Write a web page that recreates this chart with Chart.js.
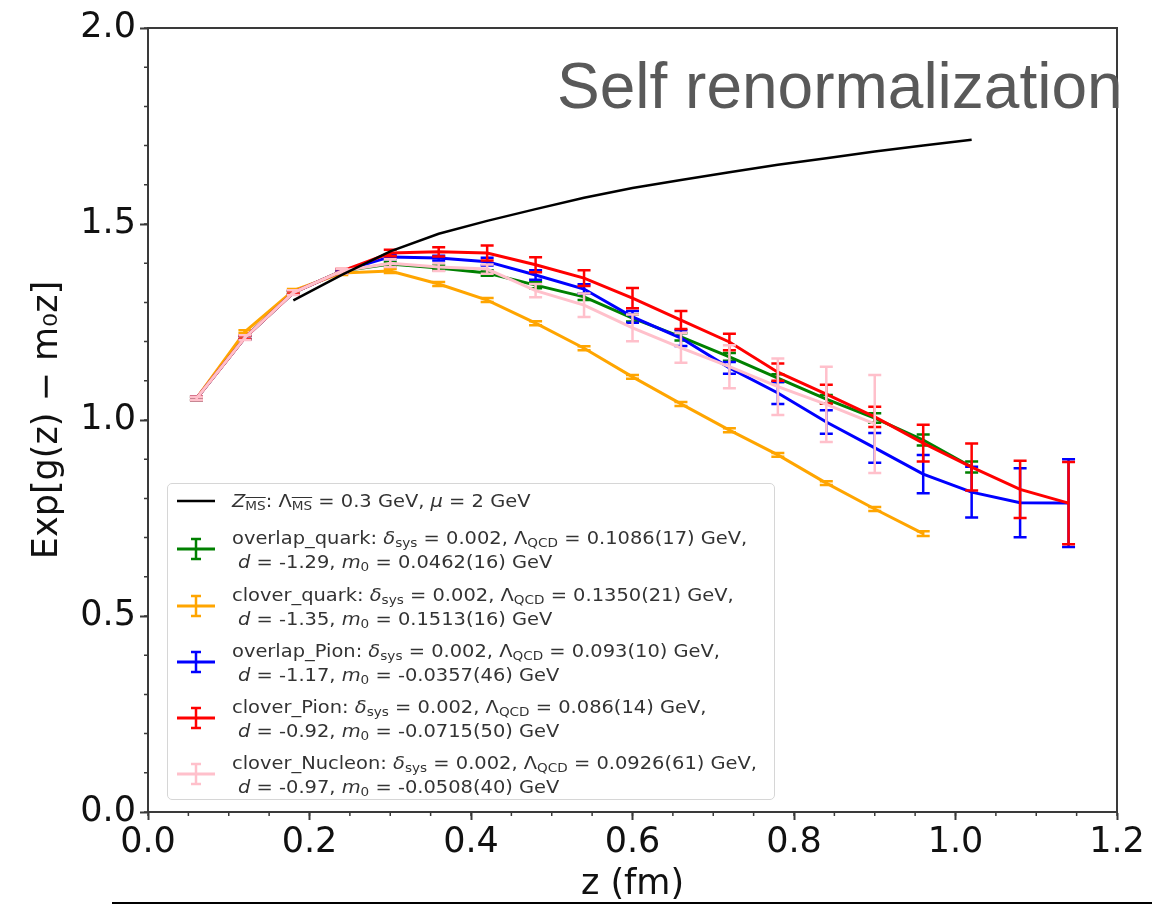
<!DOCTYPE html>
<html>
<head>
<meta charset="utf-8">
<script src="https://cdn.jsdelivr.net/npm/chart.js@4.4.1/dist/chart.umd.min.js"></script>
<style>
  body { margin: 0; background: #fff; }
  #wrap { position: relative; width: 1152px; height: 908px; overflow: hidden; }
  #chart { position: absolute; left: 0; top: 0; }
  #title { position: absolute; left: 557px; top: 54px; font: 64px/64px "Liberation Sans", Arial, sans-serif; color: #595959; white-space: nowrap; }
  #legend { position: absolute; left: 167px; top: 483px; width: 608px; height: 317px; box-sizing: border-box;
            border: 1.5px solid #d6d6d6; border-radius: 5px; background: rgba(255,255,255,0.85);
            font-family: "DejaVu Sans", sans-serif; font-size: 18px; color: #333; }
  #legend .txt { position: absolute; left: 64px; line-height: 24px; white-space: nowrap; transform: scaleX(1.08); transform-origin: left center; }
  #legend svg { position: absolute; left: 9px; }
  #legend sub { font-size: 70%; vertical-align: -0.25em; line-height: 0; }
  .ov { text-decoration: overline; }
  #rule { position: absolute; left: 112px; top: 902px; width: 1040px; height: 2px; background: #000; }
</style>
</head>
<body>
<div id="wrap">
  <canvas id="chart" width="1152" height="908"></canvas>
  <div id="title">Self renormalization</div>
  <div id="legend"></div>
  <div id="rule"></div>
</div>
<script>
// z values (fm) of the lattice points
const zPoints = [0.06, 0.12, 0.18, 0.24, 0.30, 0.36, 0.42, 0.48, 0.54, 0.60, 0.66, 0.72, 0.78, 0.84, 0.90, 0.96, 1.02, 1.08, 1.14];

// perturbative Z_MSbar curve
const zCurve = [0.18, 0.24, 0.30, 0.36, 0.42, 0.48, 0.54, 0.60, 0.66, 0.72, 0.78, 0.84, 0.90, 0.96, 1.02];
const msbarCurve = [1.305, 1.37, 1.43, 1.475, 1.508, 1.538, 1.567, 1.592, 1.612, 1.632, 1.651, 1.668, 1.685, 1.70, 1.715];

const overlapQuark    = [1.055, 1.21, 1.325, 1.38, 1.398, 1.388, 1.375, 1.344, 1.314, 1.26, 1.212, 1.161, 1.107, 1.053, 1.005, 0.949, 0.88];
const overlapQuarkErr = [0.004, 0.004, 0.004, 0.004, 0.005, 0.006, 0.007, 0.008, 0.008, 0.009, 0.009, 0.01, 0.01, 0.011, 0.012, 0.014, 0.014];

const cloverQuark    = [1.055, 1.225, 1.33, 1.375, 1.38, 1.347, 1.306, 1.247, 1.183, 1.11, 1.041, 0.974, 0.911, 0.839, 0.773, 0.71];
const cloverQuarkErr = [0.004, 0.004, 0.004, 0.005, 0.005, 0.005, 0.005, 0.005, 0.005, 0.005, 0.005, 0.005, 0.005, 0.005, 0.005, 0.006];

const overlapPion    = [1.055, 1.21, 1.325, 1.38, 1.416, 1.413, 1.404, 1.37, 1.334, 1.263, 1.209, 1.133, 1.069, 0.995, 0.929, 0.862, 0.816, 0.789, 0.788];
const overlapPionErr = [0.004, 0.004, 0.004, 0.004, 0.005, 0.006, 0.01, 0.012, 0.012, 0.015, 0.02, 0.015, 0.028, 0.03, 0.038, 0.049, 0.065, 0.088, 0.112];

const cloverPion    = [1.055, 1.21, 1.325, 1.38, 1.426, 1.429, 1.426, 1.396, 1.362, 1.311, 1.255, 1.199, 1.122, 1.066, 1.008, 0.941, 0.88, 0.823, 0.788];
const cloverPionErr = [0.004, 0.004, 0.004, 0.005, 0.008, 0.012, 0.019, 0.019, 0.02, 0.026, 0.023, 0.021, 0.022, 0.024, 0.026, 0.047, 0.06, 0.073, 0.105];

const cloverNucleon    = [1.055, 1.21, 1.325, 1.38, 1.40, 1.39, 1.385, 1.33, 1.293, 1.235, 1.184, 1.136, 1.085, 1.04, 0.99];
const cloverNucleonErr = [0.004, 0.006, 0.006, 0.006, 0.01, 0.01, 0.012, 0.017, 0.03, 0.034, 0.038, 0.055, 0.072, 0.096, 0.125];

const xTicks = [0, 0.2, 0.4, 0.6, 0.8, 1.0, 1.2];
const yTicks = [0, 0.5, 1.0, 1.5, 2.0];
const X_MINOR = 0.05;
const Y_MINOR = 0.1;

const legendLabels = [
  ['<i>Z</i><sub class="ov">MS</sub>: Λ<sub class="ov">MS</sub> = 0.3 GeV, <i>μ</i> = 2 GeV'],
  ['overlap_quark: <i>δ</i><sub>sys</sub> = 0.002, Λ<sub>QCD</sub> = 0.1086(17) GeV,', '<i>d</i> = -1.29, <i>m</i><sub>0</sub> = 0.0462(16) GeV'],
  ['clover_quark: <i>δ</i><sub>sys</sub> = 0.002, Λ<sub>QCD</sub> = 0.1350(21) GeV,', '<i>d</i> = -1.35, <i>m</i><sub>0</sub> = 0.1513(16) GeV'],
  ['overlap_Pion: <i>δ</i><sub>sys</sub> = 0.002, Λ<sub>QCD</sub> = 0.093(10) GeV,', '<i>d</i> = -1.17, <i>m</i><sub>0</sub> = -0.0357(46) GeV'],
  ['clover_Pion: <i>δ</i><sub>sys</sub> = 0.002, Λ<sub>QCD</sub> = 0.086(14) GeV,', '<i>d</i> = -0.92, <i>m</i><sub>0</sub> = -0.0715(50) GeV'],
  ['clover_Nucleon: <i>δ</i><sub>sys</sub> = 0.002, Λ<sub>QCD</sub> = 0.0926(61) GeV,', '<i>d</i> = -0.97, <i>m</i><sub>0</sub> = -0.0508(40) GeV']
];
const colors = ['#000000', '#008000', '#FFA500', '#0000FF', '#FF0000', '#FFC0CB'];

const pts = (xs, ys) => ys.map((v, i) => ({x: xs[i], y: v}));

let series = [
  {data: pts(zPoints, overlapQuark), err: overlapQuarkErr},
  {data: pts(zPoints, cloverQuark), err: cloverQuarkErr},
  {data: pts(zPoints, overlapPion), err: overlapPionErr},
  {data: pts(zPoints, cloverPion), err: cloverPionErr},
  {data: pts(zPoints, cloverNucleon), err: cloverNucleonErr}
];

let datasets = series.map((s, i) => ({
  label: legendLabels[i + 1][0],
  data: s.data,
  err: s.err,
  borderColor: colors[i + 1],
  borderWidth: 3,
  pointRadius: 0,
  tension: 0,
  order: 10 - i
}));
datasets.push({
  label: 'Z_MSbar',
  data: pts(zCurve, msbarCurve),
  borderColor: colors[0],
  borderWidth: 2.5,
  pointRadius: 0,
  tension: 0,
  order: 0
});

// vertical error bars with caps, drawn right after their own line
const errorBars = {
  id: 'errorBars',
  afterDatasetDraw(chart, args) {
    let ds = chart.data.datasets[args.index];
    if (!ds.err) return;
    let ctx = chart.ctx;
    let ys = chart.scales.y;
    ctx.save();
    ctx.strokeStyle = ds.borderColor;
    ctx.lineWidth = 2.5;
    args.meta.data.forEach((pt, i) => {
      let v = ds.data[i].y, e = ds.err[i];
      let y1 = ys.getPixelForValue(v + e), y2 = ys.getPixelForValue(v - e);
      ctx.beginPath();
      ctx.moveTo(pt.x, y1); ctx.lineTo(pt.x, y2);
      ctx.moveTo(pt.x - 6.5, y1); ctx.lineTo(pt.x + 6.5, y1);
      ctx.moveTo(pt.x - 6.5, y2); ctx.lineTo(pt.x + 6.5, y2);
      ctx.stroke();
    });
    ctx.restore();
  }
};

// box around the axes and the minor ticks
const frame = {
  id: 'frame',
  afterDraw(chart) {
    let {ctx, chartArea: a, scales: {x, y}} = chart;
    ctx.save();
    ctx.strokeStyle = '#3a3a3a';
    ctx.lineWidth = 2;
    ctx.strokeRect(a.left, a.top, a.right - a.left, a.bottom - a.top);
    ctx.lineWidth = 1.5;
    ctx.beginPath();
    for (let k = 0; k * Y_MINOR <= 2.0001; k++) {
      let py = y.getPixelForValue(k * Y_MINOR);
      ctx.moveTo(a.left, py); ctx.lineTo(a.left - 4, py);
    }
    for (let k = 0; k * X_MINOR <= 1.2001; k++) {
      let px = x.getPixelForValue(k * X_MINOR);
      ctx.moveTo(px, a.bottom); ctx.lineTo(px, a.bottom + 4);
    }
    ctx.stroke();
    ctx.restore();
  }
};

new Chart(document.getElementById('chart'), {
  type: 'line',
  data: {datasets: datasets},
  plugins: [errorBars, frame],
  options: {
    responsive: false,
    animation: false,
    devicePixelRatio: 1,
    layout: {padding: {left: 0, right: 35, top: 28, bottom: 0}},
    plugins: {legend: {display: false}, tooltip: {enabled: false}},
    scales: {
      x: {
        type: 'linear',
        min: 0, max: 1.2,
        afterBuildTicks: s => { s.ticks = xTicks.map(v => ({value: v})); },
        afterFit: s => { s.height = 96; },
        ticks: {
          callback: v => v.toFixed(1),
          color: '#111',
          font: {family: 'DejaVu Sans', size: 35},
          padding: 2,
          maxRotation: 0
        },
        grid: {drawOnChartArea: false, drawTicks: true, tickLength: 8, tickColor: '#3a3a3a', tickWidth: 2},
        border: {display: true, color: '#3a3a3a', width: 2},
        title: {display: true, text: 'z (fm)', color: '#111', font: {family: 'DejaVu Sans', size: 35}, padding: {top: 0, bottom: 2}}
      },
      y: {
        type: 'linear',
        min: 0, max: 2,
        afterBuildTicks: s => { s.ticks = yTicks.map(v => ({value: v})); },
        afterFit: s => { s.width = 148; },
        ticks: {
          callback: v => v.toFixed(1),
          color: '#111',
          font: {family: 'DejaVu Sans', size: 35},
          padding: 4
        },
        grid: {drawOnChartArea: false, drawTicks: true, tickLength: 8, tickColor: '#3a3a3a', tickWidth: 2},
        border: {display: true, color: '#3a3a3a', width: 2},
        title: {display: true, text: 'Exp[g(z) − m₀z]', color: '#111', font: {family: 'DejaVu Sans', size: 35}, padding: {top: 27, bottom: 0}}
      }
    }
  }
});

// legend box
let legend = document.getElementById('legend');
let firstLine = [17, 54, 111, 167, 223, 279];
legendLabels.forEach((lines, i) => {
  lines.forEach((t, j) => {
    let d = document.createElement('div');
    d.className = 'txt';
    d.style.top = (firstLine[i] - 12 + j * 24) + 'px';
    if (j === 1) d.style.left = '70px';
    d.innerHTML = t;
    legend.appendChild(d);
  });
  let c = colors[i];
  let mid = lines.length > 1 ? firstLine[i] + 11 : firstLine[i];
  let bar = i === 0 ? '' :
    `<line x1="19" y1="2" x2="19" y2="22" stroke="${c}" stroke-width="2.5"/>` +
    `<line x1="14" y1="2" x2="24" y2="2" stroke="${c}" stroke-width="2.5"/>` +
    `<line x1="14" y1="22" x2="24" y2="22" stroke="${c}" stroke-width="2.5"/>`;
  let svg = `<svg width="38" height="24" style="top:${mid - 12}px">` +
    `<line x1="0" y1="12" x2="38" y2="12" stroke="${c}" stroke-width="${i === 0 ? 2.5 : 3}"/>${bar}</svg>`;
  legend.insertAdjacentHTML('beforeend', svg);
});
</script>
</body>
</html>
